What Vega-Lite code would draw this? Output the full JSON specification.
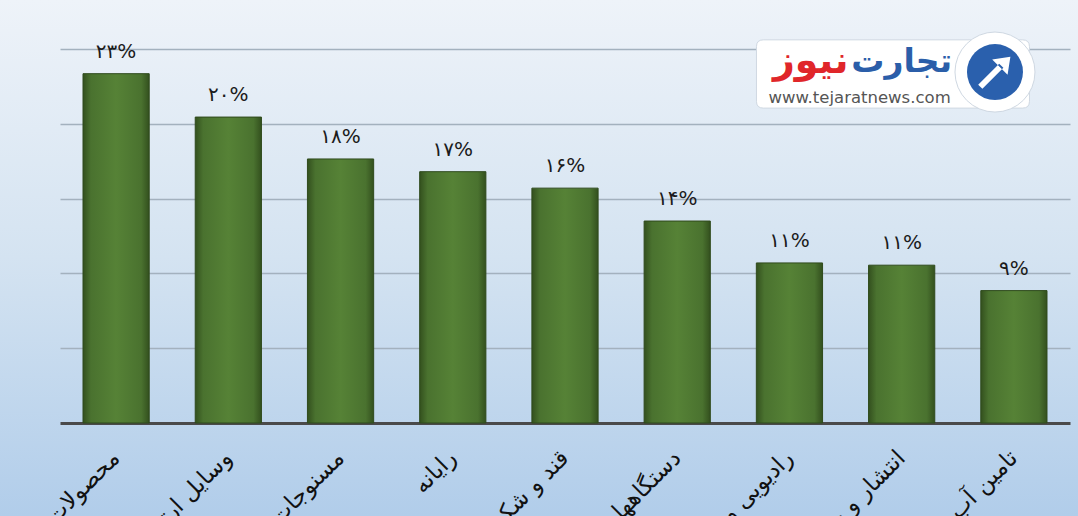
{
  "$schema": "https://vega.github.io/schema/vega-lite/v6.json",
  "width": 1078,
  "height": 516,
  "autosize": {"type": "none"},
  "padding": 0,
  "background": "#b3cfea",
  "config": {
    "font": "DejaVu Sans",
    "view": {
      "stroke": null,
      "fill": {
        "gradient": "linear",
        "x1": 0, "y1": 0, "x2": 0, "y2": 1,
        "stops": [
          {"offset": 0, "color": "#eef3f9"},
          {"offset": 0.5, "color": "#d4e3f1"},
          {"offset": 1, "color": "#b1cdea"}
        ]
      }
    }
  },
  "data": {
    "values": [
      {"industry": "محصولات شیمیایی", "value": 23.35, "label": "۲۳%"},
      {"industry": "وسایل ارتباطی", "value": 20.45, "label": "۲۰%"},
      {"industry": "مسنوجات", "value": 17.65, "label": "۱۸%"},
      {"industry": "رایانه", "value": 16.8, "label": "۱۷%"},
      {"industry": "قند و شکر", "value": 15.7, "label": "۱۶%"},
      {"industry": "دستگاههای برقی", "value": 13.5, "label": "۱۴%"},
      {"industry": "رادیویی و تلویزیونی", "value": 10.7, "label": "۱۱%"},
      {"industry": "انتشار و چاپ", "value": 10.55, "label": "۱۱%"},
      {"industry": "تامین آب", "value": 8.85, "label": "۹%"}
    ]
  },
  "layer": [
    {
      "mark": {
        "type": "bar",
        "stroke": "#2f4a1c",
        "strokeWidth": 1,
        "color": {
          "gradient": "linear",
          "x1": 0, "y1": 0, "x2": 1, "y2": 0,
          "stops": [
            {"offset": 0, "color": "#33501e"},
            {"offset": 0.12, "color": "#4a722f"},
            {"offset": 0.5, "color": "#568236"},
            {"offset": 0.88, "color": "#4a722f"},
            {"offset": 1, "color": "#33501e"}
          ]
        }
      },
      "encoding": {
        "x": {
          "field": "industry",
          "type": "nominal",
          "sort": null,
          "scale": {"range": [60, 1070], "paddingInner": 0.41, "paddingOuter": 0.205},
          "axis": {
            "title": null,
            "offset": -93,
            "domainColor": "#4a4a4a",
            "domainWidth": 3,
            "ticks": false,
            "labelAngle": -45,
            "labelAlign": "right",
            "labelBaseline": "middle",
            "labelPadding": 31,
            "labelFont": "DejaVu Sans",
            "labelFontSize": 23,
            "labelColor": "#111111",
            "labelLimit": 0,
            "labelOverlap": false
          }
        },
        "y": {
          "field": "value",
          "type": "quantitative",
          "scale": {"domain": [0, 25], "range": [423, 49], "nice": false, "zero": true},
          "axis": {
            "title": null,
            "values": [5, 10, 15, 20, 25],
            "domain": false,
            "ticks": false,
            "labels": false,
            "grid": true,
            "gridColor": "#a3b1be",
            "gridWidth": 1.5
          }
        }
      }
    },
    {
      "mark": {"type": "text", "baseline": "alphabetic", "dy": -16, "fontSize": 20, "color": "#1b1b1b", "font": "DejaVu Sans"},
      "encoding": {
        "x": {"field": "industry", "type": "nominal", "sort": null},
        "y": {"field": "value", "type": "quantitative"},
        "text": {"field": "label"}
      }
    },
    {
      "data": {"values": [{"part": "logo"}]},
      "layer": [
        {
          "mark": {
            "type": "point",
            "filled": true,
            "fill": "#ffffff",
            "opacity": 1,
            "stroke": "#cfd8e2",
            "strokeWidth": 1,
            "size": 74529,
            "shape": "M-0.95,-0.25L0.95,-0.25Q1,-0.25,1,-0.2L1,0.2Q1,0.25,0.95,0.25L-0.95,0.25Q-1,0.25,-1,0.2L-1,-0.2Q-1,-0.25,-0.95,-0.25Z"
          },
          "encoding": {
            "x": {"datum": "انتشار و چاپ", "type": "nominal"},
            "xOffset": {"value": 24.4},
            "y": {"datum": 23.33, "type": "quantitative"}
          }
        },
        {
          "mark": {"type": "point", "filled": true, "fill": "#ffffff", "opacity": 1, "stroke": "#cfd8e2", "strokeWidth": 1, "size": 6400, "shape": "circle"},
          "encoding": {
            "x": {"datum": "تامین آب", "type": "nominal"},
            "xOffset": {"value": 14.2},
            "y": {"datum": 23.46, "type": "quantitative"}
          }
        },
        {
          "mark": {"type": "point", "filled": true, "fill": "#2a60ad", "opacity": 1, "size": 3136, "shape": "circle"},
          "encoding": {
            "x": {"datum": "تامین آب", "type": "nominal"},
            "xOffset": {"value": 14.2},
            "y": {"datum": 23.46, "type": "quantitative"}
          }
        },
        {
          "mark": {"type": "point", "filled": true, "fill": "#ffffff", "opacity": 1, "size": 3136,
            "shape": "M-0.6,0.45L-0.45,0.6L0.3,-0.15L0.15,-0.3ZM0.55,-0.55L0.45,0.1L-0.1,-0.45Z"},
          "encoding": {
            "x": {"datum": "تامین آب", "type": "nominal"},
            "xOffset": {"value": 14.2},
            "y": {"datum": 23.46, "type": "quantitative"}
          }
        },
        {
          "mark": {"type": "text", "text": "تجارت", "font": "DejaVu Sans", "fontWeight": "bold", "fontSize": 33, "color": "#2b5ea9", "align": "center", "baseline": "middle", "dx": 0},
          "encoding": {
            "x": {"datum": "انتشار و چاپ", "type": "nominal"},
            "y": {"datum": 24.13, "type": "quantitative"}
          }
        },
        {
          "mark": {"type": "text", "text": "نیوز", "font": "DejaVu Sans", "fontWeight": "bold", "fontSize": 38, "color": "#e0262a", "align": "center", "baseline": "middle", "dx": -91},
          "encoding": {
            "x": {"datum": "انتشار و چاپ", "type": "nominal"},
            "y": {"datum": 24.13, "type": "quantitative"}
          }
        },
        {
          "mark": {"type": "text", "text": "www.tejaratnews.com", "font": "DejaVu Sans", "fontSize": 16.5, "color": "#555555", "align": "center", "baseline": "middle", "dx": -42},
          "encoding": {
            "x": {"datum": "انتشار و چاپ", "type": "nominal"},
            "y": {"datum": 21.72, "type": "quantitative"}
          }
        }
      ]
    }
  ]
}
